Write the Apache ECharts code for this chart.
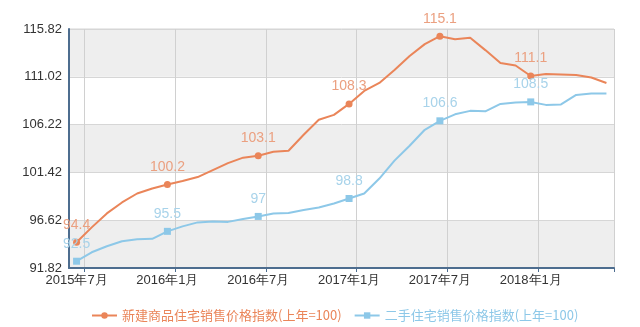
<!DOCTYPE html>
<html>
<head>
<meta charset="utf-8">
<script src="https://cdn.jsdelivr.net/npm/echarts@6/dist/echarts.min.js"></script>
<style>
html,body{margin:0;padding:0;background:#fff;}
#chart{width:640px;height:327px;}
</style>
</head>
<body>
<div id="chart"></div>
<script>
var categories = [
  '2015年7月','2015年8月','2015年9月','2015年10月','2015年11月','2015年12月',
  '2016年1月','2016年2月','2016年3月','2016年4月','2016年5月','2016年6月',
  '2016年7月','2016年8月','2016年9月','2016年10月','2016年11月','2016年12月',
  '2017年1月','2017年2月','2017年3月','2017年4月','2017年5月','2017年6月',
  '2017年7月','2017年8月','2017年9月','2017年10月','2017年11月','2017年12月',
  '2018年1月','2018年2月','2018年3月','2018年4月','2018年5月','2018年6月'
];
var newHomeIndex = [
  94.4, 95.9, 97.3, 98.4, 99.3, 99.8,
  100.2, 100.55, 100.95, 101.65, 102.35, 102.9,
  103.1, 103.5, 103.6, 105.2, 106.7, 107.2,
  108.3, 109.6, 110.4, 111.7, 113.1, 114.3,
  115.1, 114.8, 114.95, 113.7, 112.4, 112.15,
  111.1, 111.3, 111.25, 111.2, 110.95, 110.4
];
var resaleIndex = [
  92.5, 93.4, 94.0, 94.5, 94.7, 94.75,
  95.5, 96.0, 96.4, 96.5, 96.45, 96.75,
  97.0, 97.3, 97.35, 97.65, 97.9, 98.3,
  98.8, 99.3, 100.8, 102.6, 104.1, 105.7,
  106.6, 107.25, 107.6, 107.55, 108.3, 108.45,
  108.5, 108.2, 108.25, 109.2, 109.35, 109.35
];
var seriesNames = ['新建商品住宅销售价格指数(上年=100)', '二手住宅销售价格指数(上年=100)'];
var yMin = 91.82, yMax = 115.82, yStep = 4.8;

var redColor = '#ea8559', redLabel = '#eba080';
var blueColor = '#8dc8e8', blueLabel = '#a8d3ea';

function buildData(values, labelColor) {
  return values.map(function (v, i) {
    var marked = (i % 6 === 0);
    return {
      value: v,
      symbolSize: marked ? 7 : 0,
      label: {show: marked, position: 'top', distance: 7, color: labelColor,
               fontSize: 14, fontFamily: 'Liberation Sans, Arial, sans-serif'}
    };
  });
}

var chart = echarts.init(document.getElementById('chart'), null, {renderer: 'canvas'});
chart.setOption({
  animation: false,
  backgroundColor: '#fff',
  grid: {left: 69, right: 26, top: 29, bottom: 59, show: true, borderColor: '#d4d4d4', borderWidth: 1, backgroundColor: 'transparent'},
  legend: {
    top: 304,
    left: 86,
    itemWidth: 25,
    itemHeight: 8,
    itemGap: 12,
    textStyle: {fontSize: 13, fontFamily: 'Noto Sans CJK SC, sans-serif'},
    data: [
      {name: seriesNames[0], textStyle: {color: redColor}},
      {name: seriesNames[1], textStyle: {color: blueColor}}
    ]
  },
  xAxis: {
    type: 'category',
    data: categories,
    boundaryGap: true,
    axisLine: {lineStyle: {color: '#4d6d8f', width: 2}},
    axisTick: {show: true, length: 4, interval: function (i) { return i % 6 === 1; }, lineStyle: {color: '#4d6d8f'}},
    axisLabel: {interval: 5, color: '#333', fontSize: 13, margin: 6, fontFamily: 'Liberation Sans, Arial, sans-serif'},
    splitLine: {show: true, interval: function (i) { return i % 6 === 1; }, lineStyle: {color: '#d0d0d0'}}
  },
  yAxis: {
    type: 'value',
    min: yMin,
    max: yMax,
    interval: yStep,
    axisLine: {show: true, lineStyle: {color: '#4d6d8f', width: 2}},
    axisTick: {show: false},
    axisLabel: {color: '#333', fontSize: 13, margin: 7, fontFamily: 'Liberation Sans, Arial, sans-serif',
                formatter: function (v) { return v.toFixed(2); }},
    splitLine: {show: true, lineStyle: {color: '#d6d6d6'}},
    splitArea: {show: true, areaStyle: {color: ['#eeeeee', '#ffffff']}}
  },
  series: [
    {
      name: seriesNames[0],
      type: 'line',
      symbol: 'circle',
      symbolSize: 7,
      showAllSymbol: true,
      color: redColor,
      lineStyle: {width: 2, color: redColor},
      itemStyle: {color: redColor},
      data: buildData(newHomeIndex, redLabel)
    },
    {
      name: seriesNames[1],
      type: 'line',
      symbol: 'rect',
      symbolSize: 7,
      showAllSymbol: true,
      color: blueColor,
      lineStyle: {width: 2, color: blueColor},
      itemStyle: {color: blueColor},
      data: buildData(resaleIndex, blueLabel)
    }
  ]
});
</script>
</body>
</html>
